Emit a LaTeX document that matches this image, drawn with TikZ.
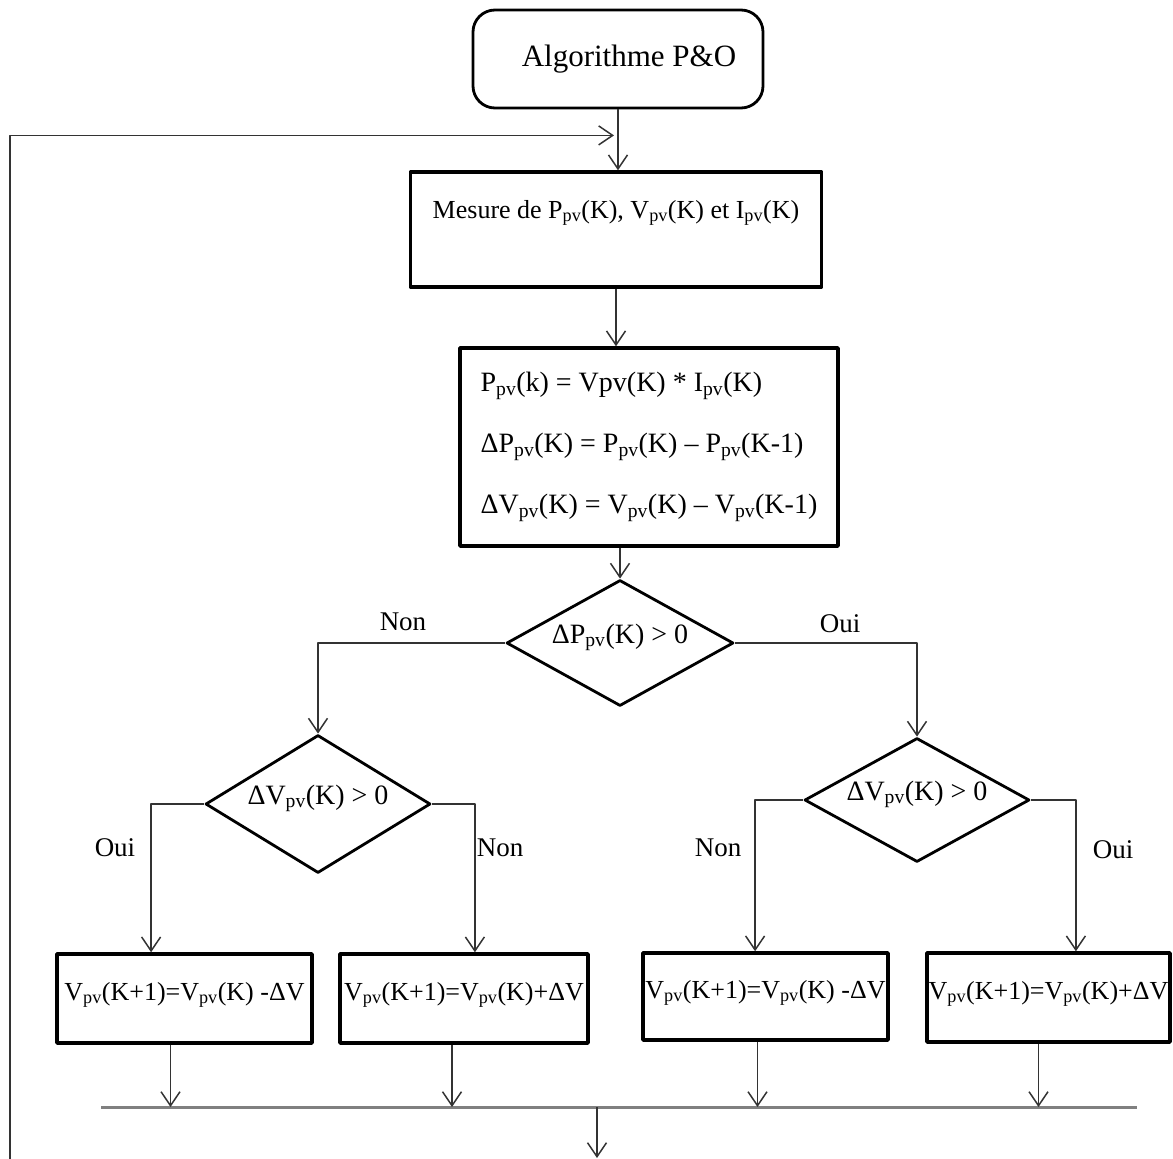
\documentclass[tikz,border=0pt]{standalone}
\usepackage{fontspec}
\setmainfont{Liberation Serif}
\usetikzlibrary{shapes.geometric,arrows.meta}
\begin{document}
\begin{tikzpicture}[x=1pt, y=-1pt, line join=round, >={Straight Barb[length=14pt,width=19pt]},
		box/.style={draw, line width=3.5pt, inner sep=0pt, font=\fontsize{26}{31}\selectfont},
		test/.style={draw, diamond, aspect=1.8, line width=2.8pt, inner sep=0pt, text height=20pt, text depth=20pt, font=\fontsize{28}{34}\selectfont},
		conn/.style={->, line width=1.5pt, draw=black!80},
		bar/.style={line width=3pt, draw=black!50},
		lbl/.style={font=\fontsize{27}{32}\selectfont}]
		\useasboundingbox (0,0) rectangle (1173,1159);
		\node[draw, rounded corners=22pt, line width=2.8pt, minimum width=290pt, minimum height=98pt, font=\fontsize{31}{37}\selectfont] (start) at (618,59) {\hspace*{22pt}Algorithme P\&O};
		\node[box, minimum width=411pt, text height=46pt, text depth=69pt] (mes) at (616,229.5) {Mesure de P\textsubscript{pv}(K), V\textsubscript{pv}(K) et I\textsubscript{pv}(K)};
		\node[box, minimum width=378pt, minimum height=198pt, align=left, font=\fontsize{28}{34}\selectfont] (calc) at (649,447) {P\textsubscript{pv}(k) = Vpv(K) * I\textsubscript{pv}(K)\\[27pt]
			ΔP\textsubscript{pv}(K) = P\textsubscript{pv}(K) – P\textsubscript{pv}(K-1)\\[27pt]
			ΔV\textsubscript{pv}(K) = V\textsubscript{pv}(K) – V\textsubscript{pv}(K-1)};
		\node[test, minimum width=227pt, minimum height=126pt] (d1) at (620,643) {ΔP\textsubscript{pv}(K) > 0};
		\node[test, minimum width=225pt, minimum height=138pt] (d2) at (318,804) {ΔV\textsubscript{pv}(K) > 0};
		\node[test, minimum width=225pt, minimum height=124pt] (d3) at (917,800) {ΔV\textsubscript{pv}(K) > 0};
		\node[box, minimum width=255pt, text height=46pt, text depth=43pt] (b1) at (184.5,998.5) {V\textsubscript{pv}(K+1)=V\textsubscript{pv}(K) -ΔV};
		\node[box, minimum width=248pt, text height=46pt, text depth=43pt] (b2) at (464,998.5) {V\textsubscript{pv}(K+1)=V\textsubscript{pv}(K)+ΔV};
		\node[box, minimum width=245pt, text height=45pt, text depth=42pt] (b3) at (765.5,996.5) {V\textsubscript{pv}(K+1)=V\textsubscript{pv}(K) -ΔV};
		\node[box, minimum width=243pt, text height=46pt, text depth=43pt] (b4) at (1048.5,997.5) {V\textsubscript{pv}(K+1)=V\textsubscript{pv}(K)+ΔV};
		\foreach \n/\t/\x/\y in {la/Non/403/622, lb/Oui/840/624, lc/Oui/115/848, ld/Non/500/848, le/Non/718/848, lf/Oui/1113/850}
			\node[lbl] (\n) at (\x,\y) {\t};
		\draw[conn] (start.south) -- (start.south |- mes.north);
		\draw[conn] (mes.south) -- (mes.south |- calc.north);
		\draw[conn] (calc.south -| d1.north) -- (d1.north);
		\draw[conn] (d1.west) -| (d2.north);
		\draw[conn] (d1.east) -| (d3.north);
		\draw[conn] (d2.west) -- ++(-53,0) coordinate (c1) -- (c1 |- b1.north);
		\draw[conn] (d2.east) -- ++(43,0) coordinate (c2) -- (c2 |- b2.north);
		\draw[conn] (d3.west) -- ++(-48,0) coordinate (c3) -- (c3 |- b3.north);
		\draw[conn] (d3.east) -- ++(45,0) coordinate (c4) -- (c4 |- b4.north);
		\coordinate (barL) at (101,1107);
		\coordinate (barR) at (1137,1107);
		\draw[bar] (barL) -- (barR);
		\foreach \b/\s in {b1/-14,b2/-12,b3/-8,b4/-10}
			\draw[conn] ([xshift=\s pt]\b.south) -- ([xshift=\s pt]\b.south |- barL);
		\coordinate (next) at (597,1158);
		\draw[conn] (next |- barL) -- (next);
		\coordinate (back) at (10,1159);
		\draw[conn] (back) |- ([xshift=-4pt,yshift=-26pt]start.south);
	\end{tikzpicture}
\end{document}
